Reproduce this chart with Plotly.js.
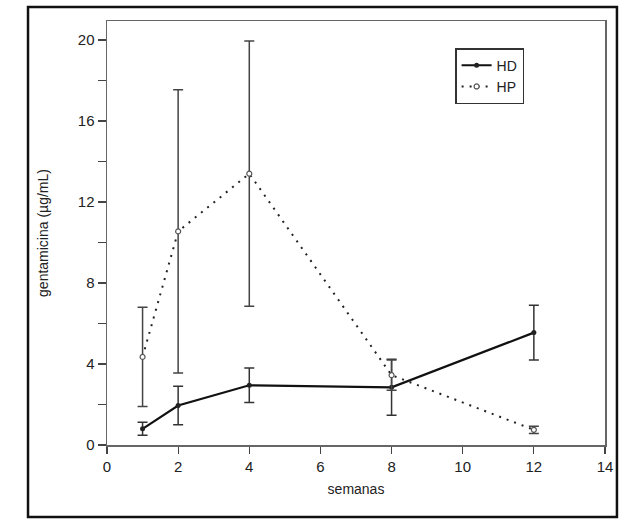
<!DOCTYPE html>
<html>
<head>
<meta charset="utf-8">
<script src="https://cdn.plot.ly/plotly-3.0.1.min.js"></script>
<style>
  html, body { margin: 0; padding: 0; background: #fff; }
  #chart { width: 628px; height: 519px; }
</style>
</head>
<body>
<div id="chart"></div>
<script>
// Data
const semanas = [1, 2, 4, 8, 12];
const hdMean = [0.8, 1.95, 2.95, 2.85, 5.55];
const hdSD   = [0.32, 0.95, 0.85, 1.38, 1.35];
const hpMean = [4.35, 10.55, 13.4, 3.45, 0.75];
const hpSD   = [2.45, 7.0, 6.55, 0.75, 0.18];
const yTickVals = [0, 2, 4, 6, 8, 10, 12, 14, 16, 18, 20];
const yTickText = ['0', '', '4', '', '8', '', '12', '', '16', '', '20'];
const xTickVals = [0, 2, 4, 6, 8, 10, 12, 14];

const traces = [
  {
    x: semanas, y: hdMean, name: 'HD', type: 'scatter', mode: 'lines+markers',
    line: { color: '#111', width: 2.2, dash: 'solid' },
    marker: { color: '#222', size: 5, symbol: 'circle' },
    error_y: { type: 'data', array: hdSD, visible: true, color: '#333', thickness: 1.5, width: 5 }
  },
  {
    x: semanas, y: hpMean, name: 'HP', type: 'scatter', mode: 'lines+markers',
    line: { color: '#222', width: 2, dash: '2px,6px' },
    marker: { color: '#fff', size: 5, symbol: 'circle', line: { color: '#555', width: 1.2 } },
    error_y: { type: 'data', array: hpSD, visible: true, color: '#444', thickness: 1.5, width: 5 }
  }
];

const layout = {
  width: 628, height: 519,
  margin: { l: 107, r: 23, t: 21, b: 74 },
  paper_bgcolor: '#fff', plot_bgcolor: '#fff',
  font: { family: 'Liberation Sans, Arial, sans-serif', color: '#222', size: 14 },
  showlegend: true,
  legend: {
    x: 0.699, y: 0.936, xanchor: 'left', yanchor: 'top',
    bordercolor: '#333', borderwidth: 1.5, bgcolor: '#fff',
    font: { size: 14, color: '#222' }, tracegroupgap: 0
  },
  xaxis: {
    range: [0, 14], tickvals: xTickVals, ticks: 'outside', ticklen: 7, tickwidth: 1.2,
    tickcolor: '#444', showgrid: false, zeroline: false,
    showline: true, linecolor: '#666', linewidth: 1.5, mirror: true,
    tickfont: { size: 15, color: '#222' },
    title: { text: 'semanas', font: { size: 14, color: '#222' }, standoff: 10 }
  },
  yaxis: {
    range: [0, 20.94], tickvals: yTickVals, ticktext: yTickText, ticks: 'outside', ticklen: 8, tickwidth: 1.2,
    tickcolor: '#444', showgrid: false, zeroline: false,
    showline: true, linecolor: '#666', linewidth: 1.5, mirror: true,
    tickfont: { size: 15, color: '#222' },
    title: { text: 'gentamicina (µg/mL)', font: { size: 14, color: '#222' }, standoff: 26 }
  },
  shapes: [
    { type: 'rect', xref: 'paper', yref: 'paper', x0: -0.1586, x1: 1.024, y0: -0.170, y1: 1.033,
      line: { color: '#111', width: 2.5 }, fillcolor: 'rgba(0,0,0,0)', layer: 'above' }
  ]
};

Plotly.newPlot('chart', traces, layout, { displayModeBar: false, staticPlot: true });
</script>
</body>
</html>
